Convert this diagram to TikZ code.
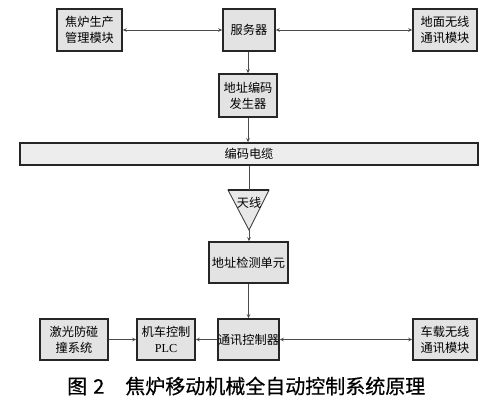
\documentclass[tikz,border=0pt]{standalone}
\usepackage{fontspec}
\setmainfont{Liberation Serif}
\newfontfamily\cjk{Noto Sans CJK SC}
\newfontfamily\cjkcap[FakeBold=0.5]{Noto Sans CJK SC}
\usetikzlibrary{arrows.meta}
\tikzset{
  blk/.style={draw=black!85, line width=1.5pt, fill=gray!22, align=center, inner sep=0pt, font=\cjk\fontsize{12.2}{16}\selectfont},
  conn/.style={draw=black!70, line width=0.9pt, -{Stealth[length=4pt,width=3.5pt]}},
  dconn/.style={draw=black!70, line width=0.9pt, {Stealth[length=4pt,width=3.5pt]}-{Stealth[length=4pt,width=3.5pt]}}
}
\begin{document}
\begin{tikzpicture}[x=1pt,y=-1pt]
\useasboundingbox (0,0) rectangle (498,401);
% top row
\node[blk, minimum width=65pt, minimum height=42pt] (prod) at (89.5,30) {焦炉生产\\管理模块};
\node[blk, minimum width=52pt, minimum height=42pt] (srv) at (249,30) {服务器};
\node[blk, minimum width=64pt, minimum height=42pt] (gnd) at (445,30) {地面无线\\通讯模块};
\node[blk, minimum width=58pt, minimum height=43pt] (gen) at (248,95.5) {地址编码\\发生器};
% bar
\node[blk, fill=gray!14, minimum width=458pt, minimum height=22pt] (bar) at (249,154) {编码电缆};
% antenna triangle
\coordinate (atl) at (228,190);
\coordinate (atr) at (269,190);
\coordinate (apex) at (249,230);
\filldraw[draw=black!75, fill=gray!18, line width=0.9pt] (atl) -- (atr) -- (apex) -- cycle;
\draw[black!85, line width=1.6pt] (atl) -- (atr);
\node[font=\cjk\fontsize{12.2}{14}\selectfont, inner sep=0pt] (ant) at (249,203) {天线};
% detection unit
\node[blk, minimum width=79pt, minimum height=41pt] (det) at (248.5,262.5) {地址检测单元};
% bottom row
\node[blk, minimum width=68pt, minimum height=41pt] (laser) at (74,339.5) {激光防碰\\撞系统};
\node[blk, minimum width=58pt, minimum height=41pt] (plc) at (166,339.5) {机车控制\\{\rmfamily PLC}};
\node[blk, minimum width=59pt, minimum height=41pt] (comm) at (248.5,339.5) {通讯控制器};
\node[blk, minimum width=64pt, minimum height=41pt] (veh) at (445,339.5) {车载无线\\通讯模块};
% connectors
\draw[dconn] (prod.east) -- (srv.west);
\draw[dconn] (srv.east) -- (gnd.west);
\draw[conn] (srv.south -| gen.north) -- (gen.north);
\draw[conn] (gen.south) -- (bar.north -| gen.south);
\draw[draw=black!70, line width=0.9pt] (bar.south -| apex) -- (apex |- atl);
\draw[conn] (apex) -- (det.north -| apex);
\draw[conn] (det.south) -- (comm.north);
\draw[conn] (laser.east) -- (plc.west);
\draw[conn] (comm.west) -- (plc.east);
\draw[dconn] (comm.east) -- (veh.west);
% caption
\node[font=\cjkcap\fontsize{20}{22}\selectfont, inner sep=0pt, anchor=west] (cap) at (67,386) {图\hspace{0.3em}2\hspace{1.05em}焦炉移动机械全自动控制系统原理};
\end{tikzpicture}
\end{document}
